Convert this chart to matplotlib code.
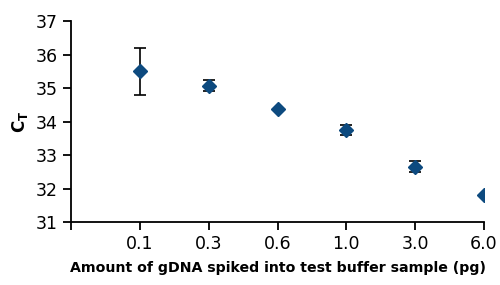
import numpy as np
import matplotlib
matplotlib.use('Agg')
import matplotlib.pyplot as plt

amounts = ['0.1', '0.3', '0.6', '1.0', '3.0', '6.0']
ct_mean = [35.5, 35.07, 34.37, 33.76, 32.65, 31.82]
ct_err = [0.7, 0.17, 0.0, 0.15, 0.17, 0.0]

fig = plt.figure(figsize=(5, 2.85), dpi=100)
ax = fig.add_axes([0.142, 0.221, 0.826, 0.705])

x = np.arange(1, len(amounts) + 1)
ax.errorbar(x, ct_mean, yerr=ct_err, fmt='none', ecolor='black',
            elinewidth=1.2, capsize=4, capthick=1.2, zorder=2)
ax.plot(x, ct_mean, 'D', color='#0d4a7f', markersize=7.5, zorder=3)

ax.set_xlim(0, len(amounts))
ax.set_ylim(31, 37)
ax.set_xticks(np.arange(0, len(amounts) + 1))
ax.set_xticklabels([''] + amounts)
ax.set_yticks(range(31, 38))

for side in ['top', 'right']:
    ax.spines[side].set_visible(False)
for side in ['left', 'bottom']:
    ax.spines[side].set_linewidth(1.3)

ax.tick_params(axis='both', labelsize=12.5, width=1.3, length=6, direction='out')
ax.tick_params(axis='x', pad=3)

ax.set_xlabel('Amount of gDNA spiked into test buffer sample (pg)',
              fontsize=10.2, fontweight='bold', labelpad=6)
ax.set_ylabel(r'$\mathbf{C_T}$', fontsize=12, labelpad=4)

fig.savefig('out.png', dpi=100)
